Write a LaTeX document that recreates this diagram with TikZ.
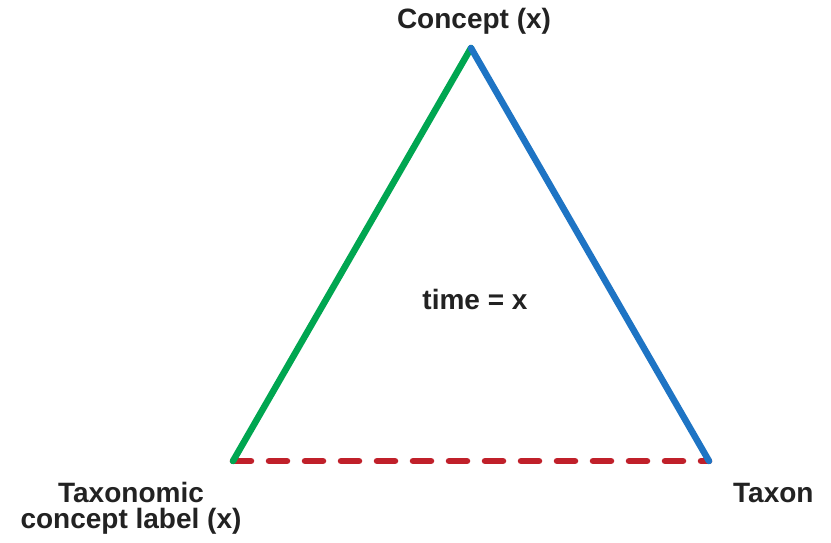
\documentclass[tikz,border=0pt]{standalone}
\usepackage{fontspec}
\setmainfont{Liberation Sans}
\definecolor{cgreen}{RGB}{0,166,81}
\definecolor{cblue}{RGB}{30,116,196}
\definecolor{cred}{RGB}{192,32,42}
\definecolor{ctext}{RGB}{34,34,34}
\tikzset{
  lbl/.style={font=\fontsize{28}{26}\selectfont\bfseries, text=ctext, inner sep=0pt},
  side/.style={line width=6.5pt, line cap=round},
}
\begin{document}
\begin{tikzpicture}[x=1pt,y=-1pt]
\useasboundingbox[fill=white] (0,0) rectangle (831,542);
\coordinate (top) at (471,48);
\coordinate (bl) at (233,461);
\coordinate (br) at (709,461);
\draw[side, cred, dash pattern=on 18pt off 18pt] (bl) -- (br);
\draw[side, cgreen] (bl) -- (top);
\draw[side, cblue] (top) -- (br);
\node[lbl, anchor=base] (concept) at (474,28) {Concept (x)};
\node[lbl, anchor=base] (time) at (475,309) {time = x};
\node[lbl, anchor=base, align=center] (tcl) at (131,528) {Taxonomic\\concept label (x)};
\node[lbl, anchor=base west] (taxon) at (733,502) {Taxon};
\end{tikzpicture}
\end{document}
